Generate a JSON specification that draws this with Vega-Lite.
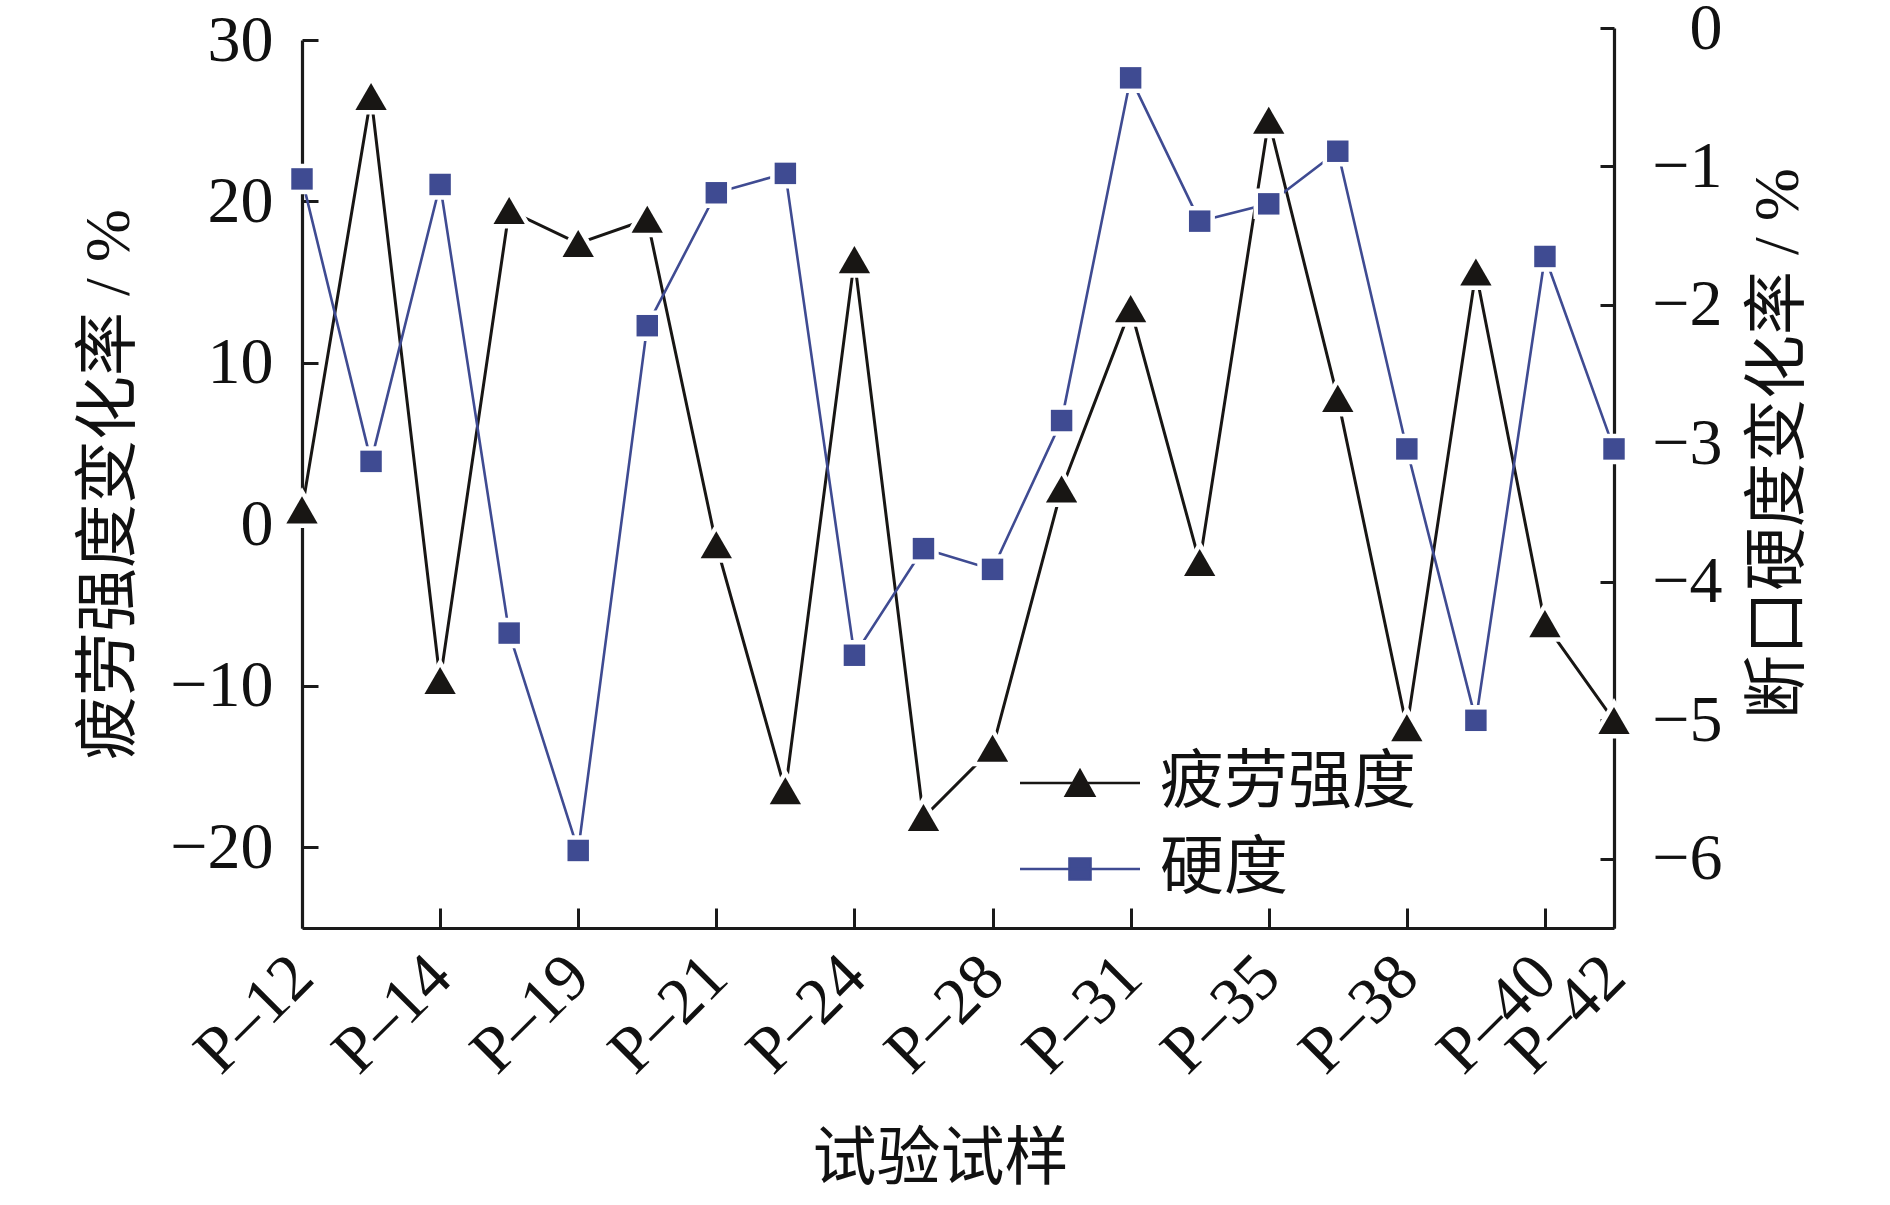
{
  "$schema": "https://vega.github.io/schema/vega-lite/v6.json",
  "width": 1312,
  "height": 900,
  "autosize": "none",
  "padding": {"left": 302, "top": 28, "right": 276, "bottom": 277},
  "background": "white",
  "config": {
    "view": {"stroke": null},
    "axis": {
      "grid": false,
      "domainColor": "#1a1a1a",
      "domainWidth": 3.2,
      "tickColor": "#1a1a1a",
      "tickWidth": 3,
      "labelFont": "Liberation Serif",
      "labelFontSize": 66,
      "labelColor": "#111111",
      "labelFlush": false,
      "labelOverlap": false,
      "labelBound": false,
      "titleFont": "Liberation Serif, Noto Sans CJK SC",
      "titleFontSize": 64,
      "titleFontWeight": "normal",
      "titleColor": "#111111"
    }
  },
  "data": {
    "values": [
      {"idx": 0, "fatigue": 0.9, "hardness": -1.09},
      {"idx": 1, "fatigue": 26.5, "hardness": -3.13},
      {"idx": 2, "fatigue": -9.67, "hardness": -1.13},
      {"idx": 3, "fatigue": 19.44, "hardness": -4.37},
      {"idx": 4, "fatigue": 17.4, "hardness": -5.94},
      {"idx": 5, "fatigue": 18.9, "hardness": -2.15},
      {"idx": 6, "fatigue": -1.26, "hardness": -1.19},
      {"idx": 7, "fatigue": -16.5, "hardness": -1.05},
      {"idx": 8, "fatigue": 16.4, "hardness": -4.53},
      {"idx": 9, "fatigue": -18.16, "hardness": -3.76},
      {"idx": 10, "fatigue": -13.87, "hardness": -3.91},
      {"idx": 11, "fatigue": 2.19, "hardness": -2.835},
      {"idx": 12, "fatigue": 13.36, "hardness": -0.36},
      {"idx": 13, "fatigue": -2.36, "hardness": -1.395},
      {"idx": 14, "fatigue": 25.03, "hardness": -1.27},
      {"idx": 15, "fatigue": 7.8, "hardness": -0.89},
      {"idx": 16, "fatigue": -12.6, "hardness": -3.04},
      {"idx": 17, "fatigue": 15.63, "hardness": -5.0},
      {"idx": 18, "fatigue": -6.15, "hardness": -1.65},
      {"idx": 19, "fatigue": -12.15, "hardness": -3.04}
    ]
  },
  "encoding": {
    "x": {
      "field": "idx",
      "type": "quantitative",
      "scale": {"domain": [0, 19], "nice": false, "zero": false},
      "axis": {
        "title": "试验试样",
        "values": [0, 2, 4, 6, 8, 10, 12, 14, 16, 18, 19],
        "labelExpr": "['P–12','','P–14','','P–19','','P–21','','P–24','','P–28','','P–31','','P–35','','P–38','','P–40','P–42'][datum.value]",
        "labelAngle": -45,
        "labelAlign": "right",
        "labelBaseline": "middle",
        "tickSize": -20,
        "labelPadding": 58,
        "titlePadding": 42,
        "titleX": 638
      }
    }
  },
  "layer": [
    {
      "encoding": {
        "y": {
          "field": "fatigue",
          "type": "quantitative",
          "scale": {"domain": [-25, 30], "range": [900, 12], "nice": false, "zero": false},
          "axis": {
            "orient": "left",
            "title": "疲劳强度变化率 / %",
            "values": [-20, -10, 0, 10, 20, 30],
            "format": "d",
            "tickSize": -16,
            "labelPadding": 45,
            "titlePadding": 28
          }
        },
        "color": {
          "datum": "疲劳强度",
          "type": "nominal",
          "scale": {"domain": ["疲劳强度", "硬度"], "range": ["#181614", "#3f4b92"]},
          "legend": {
            "orient": "none",
            "legendX": 746,
            "legendY": 723,
            "title": null,
            "padding": 0,
            "labelFont": "Noto Sans CJK SC",
            "labelFontSize": 64,
            "labelColor": "#111111",
            "labelLimit": 500,
            "symbolSize": 3600,
            "symbolStrokeWidth": 2.6,
            "labelOffset": 48,
            "rowPadding": 22,
            "encode": {
              "symbols": {
                "update": {
                  "shape": {"signal": "datum.value === '硬度' ? 'M-2,0L2,0M-0.35,-0.35L0.35,-0.35L0.35,0.35L-0.35,0.35Z' : 'M-2,0L2,0M0,-0.42L0.47,0.42L-0.47,0.42Z'"},
                  "fill": {"signal": "scale('color', datum.value)"},
                  "stroke": {"signal": "scale('color', datum.value)"},
                  "strokeWidth": {"value": 2.6},
                  "opacity": {"value": 1},
                  "fillOpacity": {"value": 1}
                }
              }
            }
          }
        }
      },
      "layer": [
        {"mark": {"type": "line", "strokeWidth": 3, "clip": false}},
        {
          "mark": {"type": "point", "shape": "triangle-up", "filled": true, "size": 980, "strokeWidth": 9, "opacity": 1, "clip": false},
          "encoding": {"color": {"value": "white"}, "stroke": {"value": "white"}}
        },
        {"mark": {"type": "point", "shape": "triangle-up", "filled": true, "size": 980, "opacity": 1, "clip": false}}
      ]
    },
    {
      "encoding": {
        "y": {
          "field": "hardness",
          "type": "quantitative",
          "scale": {"domain": [-6.5, 0], "nice": false, "zero": false},
          "axis": {
            "orient": "right",
            "title": "断口硬度变化率 / %",
            "values": [0, -1, -2, -3, -4, -5, -6],
            "format": "d",
            "tickSize": -14,
            "labelAlign": "right",
            "labelPadding": 122,
            "titleAngle": -90,
            "titleBaseline": "top",
            "titlePadding": 24,
            "titleY": 415
          }
        },
        "color": {"datum": "硬度", "type": "nominal"}
      },
      "layer": [
        {"mark": {"type": "line", "strokeWidth": 2.6, "clip": false}},
        {
          "mark": {"type": "point", "shape": "square", "filled": true, "size": 460, "strokeWidth": 9, "opacity": 1, "clip": false},
          "encoding": {"color": {"value": "white"}, "stroke": {"value": "white"}}
        },
        {"mark": {"type": "point", "shape": "square", "filled": true, "size": 460, "opacity": 1, "clip": false}}
      ]
    }
  ],
  "resolve": {"scale": {"y": "independent"}, "axis": {"y": "independent"}}
}
